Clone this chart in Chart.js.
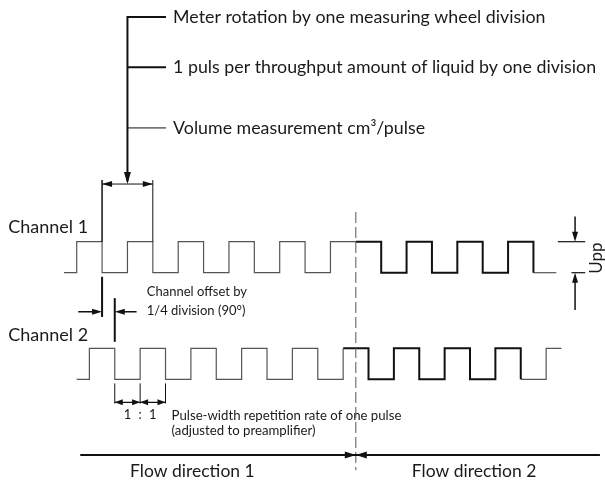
<!DOCTYPE html>
<html>
<head>
<meta charset="utf-8">
<script src="https://cdn.jsdelivr.net/npm/chart.js@4/dist/chart.umd.min.js"></script>
<style>
  body { margin: 0; background: #fff; }
  #wrap { width: 605px; height: 489px; }
</style>
</head>
<body>
<div id="wrap"><canvas id="pulseChart" width="605" height="489"></canvas></div>
<script>
// time axis in measuring wheel divisions, level in Upp
const reversalAt = 5.5;
const ch1Edges = [0, 0.5, 1, 1.5, 2, 2.5, 3, 3.5, 4, 4.5, 5, 6, 6.5, 7, 7.5, 8, 8.5, 9];
const ch2Edges = [0.25, 0.75, 1.25, 1.75, 2.25, 2.75, 3.25, 3.75, 4.25, 4.75, 5.25, 5.75, 6.25, 6.75, 7.25, 7.75, 8.25, 8.75, 9.25];
const ch1Span = [-0.25, 9.45];
const ch2Span = [0, 9.55];
const ch1Base = 0;
const ch2Base = -3.44;
const flowLabels = ["Flow direction 1", "Flow direction 2"];
const channelLabels = ["Channel 1", "Channel 2"];
const topNotes = [
    "Meter rotation by one measuring wheel division",
    "1 puls per throughput amount of liquid by one division",
    "Volume measurement cm³/pulse"
];

const FONT = "Lato, 'Open Sans', sans-serif";

// square wave corners between x0 and x1, toggling at each edge
const wave = (x0, level, edges, x1, base) => {
    const pts = [{ x: x0, y: base + level }];
    edges.forEach(e => {
        pts.push({ x: e, y: base + level });
        level = 1 - level;
        pts.push({ x: e, y: base + level });
    });
    pts.push({ x: x1, y: base + level });
    return pts;
};

const levelAt = (edges, x) => edges.filter(e => e <= x).length % 2;

const segment = (edges, span, from, to, base) => {
    const a = Math.max(from, span[0]);
    const b = Math.min(to, span[1]);
    const startLevel = a === span[0] ? 0 : levelAt(edges, a);
    return wave(a, startLevel, edges.filter(e => e > a && e <= b), b, base);
};

const thin = { borderColor: "#555", borderWidth: 1.2 };
const thick = { borderColor: "#111", borderWidth: 2 };

const datasets = [
    { data: segment(ch1Edges, ch1Span, -99, reversalAt, ch1Base), ...thin },
    { data: segment(ch1Edges, ch1Span, reversalAt, 9, ch1Base), ...thick },
    { data: segment(ch1Edges, ch1Span, 9, 99, ch1Base), ...thin },
    { data: segment(ch2Edges, ch2Span, -99, 5.25, ch2Base), ...thin },
    { data: segment(ch2Edges, ch2Span, 5.25, 8.75, ch2Base), ...thick },
    { data: segment(ch2Edges, ch2Span, 8.75, 99, ch2Base), ...thin }
].map(d => ({ ...d, showLine: true, pointRadius: 0, fill: false, tension: 0 }));

const annotate = {
    id: "annotate",
    afterDatasetsDraw(chart) {
        const ctx = chart.ctx;
        const X = v => chart.scales.x.getPixelForValue(v);
        const Y = v => chart.scales.y.getPixelForValue(v);

        const line = (x1, y1, x2, y2, w = 1.5, color = "#111") => {
            ctx.save();
            ctx.strokeStyle = color;
            ctx.lineWidth = w;
            ctx.beginPath();
            ctx.moveTo(X(x1), Y(y1));
            ctx.lineTo(X(x2), Y(y2));
            ctx.stroke();
            ctx.restore();
        };
        // filled arrow head with its tip at (x, y), pointing along dir
        const head = (x, y, dir, len = 10, half = 3) => {
            const px = X(x), py = Y(y);
            ctx.save();
            ctx.fillStyle = "#111";
            ctx.translate(px, py);
            ctx.rotate({ right: 0, down: Math.PI / 2, left: Math.PI, up: -Math.PI / 2 }[dir]);
            ctx.beginPath();
            ctx.moveTo(0, 0);
            ctx.lineTo(-len, -half);
            ctx.lineTo(-len, half);
            ctx.closePath();
            ctx.fill();
            ctx.restore();
        };
        const text = (str, x, y, size, align = "left") => {
            ctx.save();
            ctx.fillStyle = "#1a1a1a";
            ctx.font = size + "px " + FONT;
            ctx.textAlign = align;
            ctx.textBaseline = "middle";
            ctx.fillText(str, X(x), Y(y));
            ctx.restore();
        };

        // top bracket with its three notes
        const noteY = [8.25, 6.63, 4.67];
        line(1, 8.25 + 0.03, 1, 2.95, 2);
        noteY.forEach((y, i) => {
            line(1, y, 1.76, y, i < 2 ? 2 : 1);
            text(topNotes[i], 1.9, y, 17.8);
        });
        head(1, 2.86, "down", 12, 3.5);

        // one division between two falling edges
        line(0.5, 2.99, 0.5, 1, 1.5);
        line(1.5, 2.99, 1.5, 1, 1);
        line(0.5, 2.86, 1.5, 2.86, 1);
        head(0.5, 2.86, "left");
        head(1.5, 2.86, "right");

        // channel labels
        text(channelLabels[0], -1.35, 1.48, 18);
        text(channelLabels[1], -1.35, -2.0, 18);

        // Upp dimension
        line(9.48, 1, 10.02, 1, 1.2);
        line(9.75, 0, 10.02, 0, 1.2);
        line(9.82, 1.81, 9.82, 1.2, 1.5);
        head(9.82, 1, "down");
        line(9.82, -1.2, 9.82, -0.2, 1.5);
        head(9.82, 0, "up");
        ctx.save();
        ctx.translate(X(10.24), Y(0.47));
        ctx.rotate(-Math.PI / 2);
        ctx.fillStyle = "#1a1a1a";
        ctx.font = "17px " + FONT;
        ctx.textAlign = "center";
        ctx.textBaseline = "middle";
        ctx.fillText("Upp", 0, 0);
        ctx.restore();

        // channel offset of a quarter division
        line(0.5, -0.13, 0.5, -1.43, 2);
        line(0.75, -0.82, 0.75, -2.23, 2);
        line(0.03, -1.26, 0.4, -1.26, 1.5);
        head(0.5, -1.26, "right");
        line(1.18, -1.26, 0.85, -1.26, 1.5);
        head(0.75, -1.26, "left");
        text("Channel offset by", 1.38, -0.62, 13);
        text("1/4 division (90°)", 1.38, -1.23, 13);

        // 1 : 1 pulse width
        [0.75, 1.25, 1.75].forEach(x => line(x, -3.57, x, -4.22, 1));
        line(0.75, -4.18, 1.75, -4.18, 1.2);
        head(0.75, -4.18, "left", 8, 3);
        head(1.25, -4.18, "right", 8, 3);
        head(1.25, -4.18, "left", 8, 3);
        head(1.75, -4.18, "right", 8, 3);
        text("1", 1.0, -4.6, 13, "center");
        text(":", 1.25, -4.6, 13, "center");
        text("1", 1.5, -4.6, 13, "center");
        text("Pulse-width repetition rate of one pulse", 1.87, -4.62, 13.2);
        text("(adjusted to preamplifier)", 1.87, -5.1, 13.2);

        // reversal of flow
        ctx.save();
        ctx.setLineDash([11, 4]);
        line(reversalAt, 1.96, reversalAt, -6.37, 1, "#555");
        ctx.restore();
        line(0.07, -5.88, 10.31, -5.88, 2);
        head(reversalAt, -5.88, "right", 11, 3.5);
        head(reversalAt, -5.88, "left", 11, 3.5);
        text(flowLabels[0], 2.28, -6.42, 17.5, "center");
        text(flowLabels[1], 7.83, -6.42, 17.5, "center");
    }
};

new Chart(document.getElementById("pulseChart").getContext("2d"), {
    type: "scatter",
    data: { datasets },
    options: {
        responsive: false,
        animation: false,
        layout: { padding: 0 },
        plugins: { legend: { display: false }, tooltip: { enabled: false } },
        scales: {
            x: { type: "linear", min: -1.5113, max: 10.4099, display: false },
            y: { type: "linear", min: -6.9774, max: 8.7968, display: false }
        }
    },
    plugins: [annotate]
});
</script>
</body>
</html>
